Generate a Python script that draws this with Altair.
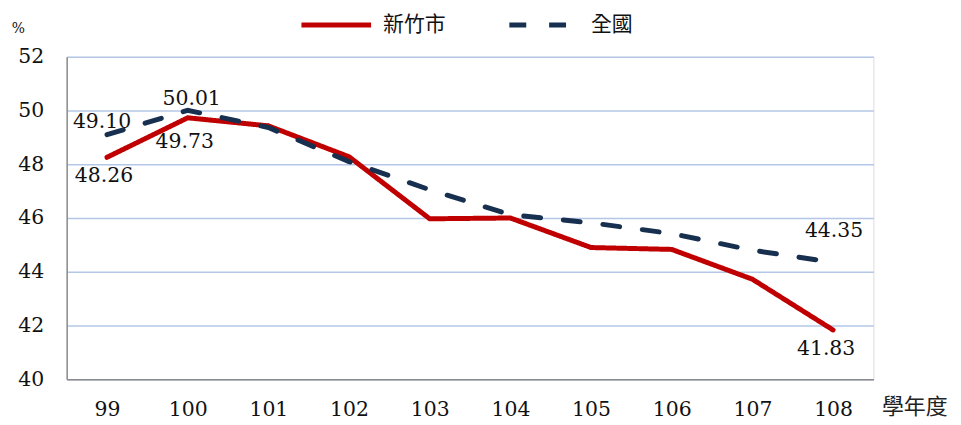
import altair as alt
import pandas as pd

years = ["99", "100", "101", "102", "103", "104", "105", "106", "107", "108"]
hsinchu = [48.26, 49.73, 49.43, 48.28, 45.97, 46.00, 44.90, 44.83, 43.72, 41.83]
national = [49.10, 50.01, 49.37, 48.10, 47.05, 46.12, 45.82, 45.42, 44.80, 44.35]
series_names = ["新竹市", "全國"]
y_ticks = [40, 42, 44, 46, 48, 50, 52]

rows = []
for i, yr in enumerate(years):
    rows.append({"year": yr, "series": series_names[0], "value": hsinchu[i], "order": i})
    rows.append({"year": yr, "series": series_names[1], "value": national[i], "order": i})
df = pd.DataFrame(rows)
df["label"] = df["value"].map(lambda v: f"{v:.2f}")

CJK = "Noto Sans CJK TC"
SERIF = "DejaVu Serif"
NUM_SIZE = 20.5

x_enc = alt.X(
    "year:O",
    sort=years,
    scale=alt.Scale(type="point", padding=0.5),
    axis=alt.Axis(
        title="學年度",
        titleFont=CJK,
        titleFontSize=22,
        titleFontWeight="normal",
        titleColor="#222222",
        titleX=852,
        titleY=28,
        titleAlign="center",
        titleBaseline="middle",
        labelAngle=0,
        labelFont=SERIF,
        labelFontSize=NUM_SIZE,
        labelColor="#111111",
        labelPadding=21,
        ticks=False,
        grid=False,
        domainColor="#8C8C8C",
        domainWidth=1.5,
    ),
)
y_enc = alt.Y(
    "value:Q",
    scale=alt.Scale(domain=[40, 52], nice=False, zero=False),
    axis=alt.Axis(
        values=y_ticks,
        title="%",
        titleFont=SERIF,
        titleFontSize=14,
        titleFontWeight="normal",
        titleColor="#111111",
        titleAngle=0,
        titleX=-49,
        titleY=-28,
        titleAlign="center",
        titleBaseline="middle",
        labelFont=SERIF,
        labelFontSize=NUM_SIZE,
        labelColor="#111111",
        labelPadding=23,
        ticks=False,
        grid=True,
        gridColor="#B4C7E7",
        gridWidth=1.5,
        domainColor="#8C8C8C",
        domainWidth=1.5,
    ),
)

lines = alt.Chart(df).mark_line(strokeWidth=5, strokeCap="round", strokeJoin="miter").encode(
    x=x_enc,
    y=y_enc,
    order="order:Q",
    color=alt.Color(
        "series:N",
        scale=alt.Scale(domain=series_names, range=["#C00000", "#17304F"]),
        legend=alt.Legend(
            title=None,
            orient="none",
            direction="horizontal",
            legendX=251,
            legendY=-52,
            padding=0,
            symbolType="M-2,0H2",
            symbolSize=1225,
            symbolStrokeWidth=5,
            labelFont=CJK,
            labelFontSize=21,
            labelBaseline="middle",
            labelColor="#111111",
            labelOffset=27,
            columnPadding=54,
        ),
    ),
    strokeDash=alt.StrokeDash(
        "series:N",
        scale=alt.Scale(domain=series_names, range=[[1, 0], [17, 23]]),
        legend=alt.Legend(title=None),
    ),
)

label_specs = [
    ("99", "全國", -5, -13),
    ("100", "全國", 4, -11),
    ("108", "全國", 1, -31),
    ("99", "新竹市", -3, 19),
    ("100", "新竹市", -3, 24),
    ("108", "新竹市", -7, 19),
]
layers = [lines]
for yr, s, dx, dy in label_specs:
    t = (
        alt.Chart(df)
        .transform_filter((alt.datum.year == yr) & (alt.datum.series == s))
        .mark_text(font=SERIF, fontSize=NUM_SIZE, color="#111111", dx=dx, dy=dy, baseline="middle", align="center")
        .encode(x=alt.X("year:O", sort=years), y="value:Q", text="label:N")
    )
    layers.append(t)

chart = (
    alt.layer(*layers)
    .properties(
        width=811,
        height=324,
        autosize=alt.AutoSizeParams(type="none"),
        padding={"left": 59, "top": 48, "right": 80, "bottom": 44},
    )
    .configure_view(stroke="transparent")
    .configure(background="white")
)

chart.save("out.html", embed_options={"renderer": "svg", "actions": False})
